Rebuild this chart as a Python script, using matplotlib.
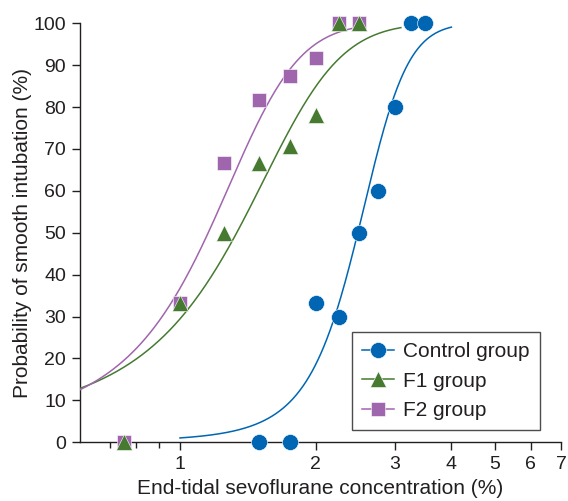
import numpy as np
import matplotlib
matplotlib.use("Agg")
import matplotlib.pyplot as plt
from matplotlib.lines import Line2D
from matplotlib.ticker import NullFormatter

plt.rcParams['font.family'] = ['Liberation Sans', 'DejaVu Sans']

# ---- data ----
groups = ["Control group", "F1 group", "F2 group"]
conc_control = [1.5, 1.75, 2.0, 2.25, 2.5, 2.75, 3.0, 3.25, 3.5]
prob_control = [0, 0, 33.3, 30, 50, 60, 80, 100, 100]
conc_f1 = [0.75, 1.0, 1.25, 1.5, 1.75, 2.0, 2.25, 2.5]
prob_f1 = [0, 33.3, 50, 66.7, 70.6, 78.0, 100, 100]
conc_f2 = [0.75, 1.0, 1.25, 1.5, 1.75, 2.0, 2.25, 2.5]
prob_f2 = [0, 33.3, 66.7, 81.8, 87.5, 91.7, 100, 100]

# fitted logistic curves (EC50 in %, slope per %), drawn over given ranges
ec50 = [2.48, 1.336, 1.155]
slope = [3.08, 2.6, 3.5]
curve_range = [(1.0, 4.0), (0.6, 3.09), (0.6, 2.43)]

xticks_major = [1, 2, 3, 4, 5, 6, 7]
xticks_minor = [0.7, 0.8, 0.9]
yticks = [0, 10, 20, 30, 40, 50, 60, 70, 80, 90, 100]

colors = ["#0066b3", "#457a30", "#a066ad"]
markers = ["o", "^", "s"]
msizes = [11.5, 11.5, 10]
text_color = "#231f20"

fig = plt.figure(figsize=(5.68, 5.01), dpi=100)
ax = fig.add_axes([0.1408, 0.1172, 0.8468, 0.8363])
ax.set_xscale('log')

xs_all = [conc_control, conc_f1, conc_f2]
ys_all = [prob_control, prob_f1, prob_f2]
mz = [5, 6, 5]
for i in range(3):
    lo, hi = curve_range[i]
    xc = np.linspace(lo, hi, 300)
    yc = 100.0 / (1.0 + np.exp(-slope[i] * (xc - ec50[i])))
    ax.plot(xc, yc, color=colors[i], lw=1.1, zorder=3)
for i in range(3):
    ax.plot(xs_all[i], ys_all[i], linestyle='none', marker=markers[i],
            ms=msizes[i], color=colors[i], mec='white', mew=0.4,
            clip_on=False, zorder=mz[i])

ax.set_xlim(0.6, 7)
ax.set_ylim(0, 100)
ax.set_xticks(xticks_major)
ax.set_xticklabels([str(t) for t in xticks_major])
ax.set_xticks(xticks_minor, minor=True)
ax.xaxis.set_minor_formatter(NullFormatter())
ax.set_yticks(yticks)

for s in ['top', 'right']:
    ax.spines[s].set_visible(False)
for s in ['left', 'bottom']:
    ax.spines[s].set_linewidth(1.0)
    ax.spines[s].set_color(text_color)

ax.tick_params(axis='both', which='major', labelsize=14, colors=text_color,
               length=6, width=1.0, pad=4)
ax.tick_params(axis='x', which='minor', length=4, width=1.0, colors=text_color)

ax.set_xlabel("End-tidal sevoflurane concentration (%)", fontsize=15,
              color=text_color, labelpad=4)
ax.set_ylabel("Probability of smooth intubation (%)", fontsize=15,
              color=text_color, labelpad=1)

handles = [Line2D([], [], color=colors[i], lw=1.1, marker=markers[i],
                  ms=msizes[i], mec='white', mew=0.4) for i in range(3)]
leg = ax.legend(handles, groups, loc='upper left',
                bbox_to_anchor=(0.565, 0.264), borderaxespad=0,
                fontsize=15, frameon=True, fancybox=False,
                handlelength=1.55, handletextpad=0.4, labelspacing=0.5,
                borderpad=0.5)
leg.get_frame().set_edgecolor(text_color)
leg.get_frame().set_linewidth(1.0)
for t in leg.get_texts():
    t.set_color(text_color)

fig.savefig("out.png", dpi=100)
